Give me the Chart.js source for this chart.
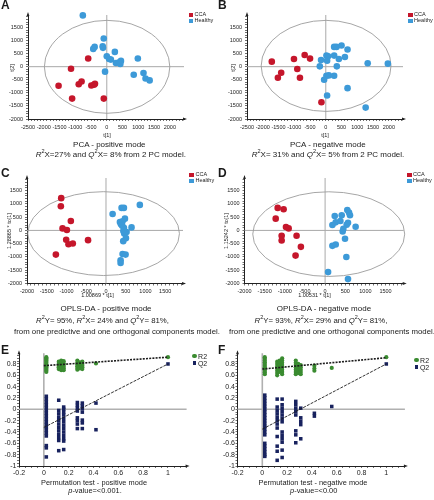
<!DOCTYPE html>
<html>
<head>
<meta charset="utf-8">
<script src="https://cdn.jsdelivr.net/npm/chart.js@4.4.1/dist/chart.umd.min.js"></script>
<style>
  body { margin: 0; background: #fff; font-family: "Liberation Sans", Arial, sans-serif; color: #1a1a1a; }
  #fig { position: relative; width: 434px; height: 500px; overflow: hidden; }
  canvas { position: absolute; }
  .lbl { position: absolute; white-space: nowrap; line-height: 1; transform: translate(-50%, -50%); }
  .rot { transform: translate(-50%, -50%) rotate(-90deg); }
  .side { transform: translateY(-50%); }
  .letter { position: absolute; font-weight: bold; font-size: 12px; line-height: 1; }
  sup { font-size: 70%; line-height: 0; position: relative; top: -0.1em; vertical-align: super; }
</style>
</head>
<body>
<div id="fig"></div>
<script>
const FONT = '"Liberation Sans", Arial, sans-serif';
const RED = '#c5162b', BLUE = '#3d9ad8', GREEN = '#3a8b30', NAVY = '#18225e';

// A - PCA positive mode, [t1, t2]
const pcaPosCCA = [[-590, 310], [-1135, -80], [-800, -565], [-890, -670], [-490, -720],
  [-405, -690], [-375, -650], [-1530, -730], [-1100, -1220], [-95, -1220]];
const pcaPosHealthy = [[-760, 1960], [-96, 1077], [-130, 780], [-120, 720], [-385, 756],
  [-430, 680], [0, 400], [75, 295], [130, 270], [256, 565], [290, 140], [395, 165],
  [450, 220], [430, 100], [985, 310], [-55, -190], [855, -310], [1165, -245],
  [1230, -450], [1360, -525]];

// B - PCA negative mode
const pcaNegCCA = [[-1713, 192], [-1010, 295], [-670, 449], [-500, 308], [-905, -90],
  [-1415, -230], [-1520, -423], [-820, -423], [-138, -1359]];
const pcaNegHealthy = [[21, 423], [74, 397], [42, 230], [-150, 255], [-190, 13],
  [265, 756], [340, 756], [500, 808], [265, 423], [415, 295], [690, 654], [606, 372],
  [350, 13], [20, -346], [95, -333], [-53, -500], [265, -346], [690, -820],
  [42, -1100], [1330, 128], [1970, 115], [1265, -1564]];

// C - OPLS-DA positive mode, [t1, to1]
const oplsPosCCA = [[-1134, 1215], [-1143, 911], [-890, 354], [-1100, 76], [-990, 13],
  [-1008, -354], [-950, -519], [-840, -494], [-454, -367], [-1269, -911]];
const oplsPosHealthy = [[857, 962], [395, 848], [454, 848], [168, 620], [480, 443],
  [353, 316], [420, 342], [378, 228], [410, 180], [647, 114], [454, 101], [440, -20],
  [521, -63], [462, -114], [504, -291], [437, -405], [420, -886], [496, -911],
  [370, -1126], [370, -1228]];

// D - OPLS-DA negative mode
const oplsNegCCA = [[-1177, 848], [-1029, 797], [-1226, 443], [-971, 127], [-905, 76],
  [-1078, -203], [-1078, -380], [-708, -203], [-601, -620], [-733, -949]];
const oplsNegHealthy = [[239, 544], [412, 570], [551, 772], [593, 671], [617, 570],
  [263, 304], [379, 354], [181, 203], [568, 291], [535, 215], [757, 139], [453, 63],
  [436, -38], [494, -316], [181, -582], [263, -532], [527, -1000], [74, -1570],
  [568, -1835]];

// Hotelling ellipses: [centre t1, centre t2, radius t1, radius t2]
const ellipseA = [10, -6, 1990, 1776];
const ellipseB = [10, 30, 2060, 1740];
const ellipseC = [-60, -120, 1920, 1580];
const ellipseD = [90, -139, 1885, 1595];

// E - permutation test positive mode, [correlation, value]
const permPosR2 = [
  [0.02, 0.92], [0.02, 0.9], [0.02, 0.88], [0.02, 0.86], [0.02, 0.84], [0.02, 0.82], [0.02, 0.8],
  [0.02, 0.78], [0.02, 0.76], [0.02, 0.74], [0.02, 0.72], [0.02, 0.7], [0.02, 0.68], [0.02, 0.66],
  [0.12, 0.84], [0.12, 0.8], [0.12, 0.77], [0.12, 0.74], [0.12, 0.71],
  [0.14, 0.86], [0.14, 0.82], [0.14, 0.78], [0.14, 0.75], [0.14, 0.72], [0.14, 0.69],
  [0.16, 0.85], [0.16, 0.81], [0.16, 0.78], [0.16, 0.75], [0.16, 0.72], [0.16, 0.69],
  [0.27, 0.86], [0.27, 0.82], [0.27, 0.79], [0.27, 0.76], [0.27, 0.73], [0.27, 0.7],
  [0.29, 0.83], [0.29, 0.79], [0.29, 0.75], [0.29, 0.72],
  [0.31, 0.84], [0.31, 0.8], [0.31, 0.77], [0.31, 0.74], [0.31, 0.71],
  [0.42, 0.81], [1, 0.92]];
const permPosQ2 = [
  [0.02, 0.23], [0.02, 0.18], [0.02, 0.13], [0.02, 0.08], [0.02, 0.03], [0.02, -0.02],
  [0.02, -0.07], [0.02, -0.12], [0.02, -0.17], [0.02, -0.22], [0.02, -0.27], [0.02, -0.32],
  [0.02, -0.37], [0.02, -0.42], [0.02, -0.47], [0.02, -0.64], [0.02, -0.68], [0.02, -0.84],
  [0.12, 0.16], [0.12, -0.02], [0.12, -0.08], [0.12, -0.14], [0.12, -0.2], [0.12, -0.26],
  [0.12, -0.32], [0.12, -0.38], [0.12, -0.44], [0.12, -0.5], [0.12, -0.55], [0.12, -0.73],
  [0.16, 0.04], [0.16, 0], [0.16, -0.05], [0.16, -0.1], [0.16, -0.16], [0.16, -0.22],
  [0.16, -0.28], [0.16, -0.34], [0.16, -0.4], [0.16, -0.46], [0.16, -0.52], [0.16, -0.56],
  [0.16, -0.71],
  [0.27, 0.12], [0.27, 0.07], [0.27, 0.02], [0.27, -0.03], [0.27, -0.15], [0.27, -0.2],
  [0.27, -0.26], [0.27, -0.34],
  [0.31, 0.11], [0.31, 0.06], [0.31, 0.01], [0.31, -0.05], [0.31, -0.19], [0.31, -0.24],
  [0.31, -0.34],
  [0.42, 0.11], [0.42, -0.36], [1, 0.8]];
const permPosR2Fit = [[0, 0.77], [1, 0.92]];
const permPosQ2Fit = [[0, -0.32], [1, 0.8]];

// F - permutation test negative mode
const permNegR2 = [
  [0.02, 0.92], [0.02, 0.89], [0.02, 0.86], [0.02, 0.83], [0.02, 0.8], [0.02, 0.77],
  [0.02, 0.74], [0.02, 0.71], [0.02, 0.68], [0.02, 0.65], [0.02, 0.62],
  [0.12, 0.84], [0.12, 0.8], [0.12, 0.76], [0.12, 0.72], [0.12, 0.68], [0.12, 0.64], [0.12, 0.6],
  [0.14, 0.86], [0.14, 0.82], [0.14, 0.78], [0.14, 0.74], [0.14, 0.7], [0.14, 0.66],
  [0.16, 0.9], [0.16, 0.86], [0.16, 0.82], [0.16, 0.78], [0.16, 0.74], [0.16, 0.7],
  [0.16, 0.66], [0.16, 0.62],
  [0.27, 0.86], [0.27, 0.82], [0.27, 0.78], [0.27, 0.74], [0.27, 0.7], [0.27, 0.66], [0.27, 0.62],
  [0.29, 0.8], [0.29, 0.76], [0.29, 0.72], [0.29, 0.68], [0.29, 0.64],
  [0.31, 0.78], [0.31, 0.74], [0.31, 0.7], [0.31, 0.66], [0.31, 0.62],
  [0.42, 0.77], [0.42, 0.72], [0.42, 0.68], [0.56, 0.73], [1, 0.92]];
const permNegQ2 = [
  [0.02, 0.25], [0.02, 0.2], [0.02, 0.15], [0.02, 0.1], [0.02, 0.05], [0.02, 0],
  [0.02, -0.05], [0.02, -0.1], [0.02, -0.15], [0.02, -0.2], [0.02, -0.25], [0.02, -0.3],
  [0.02, -0.35], [0.02, -0.4], [0.02, -0.45], [0.02, -0.6], [0.02, -0.65], [0.02, -0.7],
  [0.02, -0.75], [0.02, -0.8], [0.02, -0.83],
  [0.12, 0.18], [0.12, 0.04], [0.12, -0.02], [0.12, -0.08], [0.12, -0.14], [0.12, -0.2],
  [0.12, -0.26], [0.12, -0.33], [0.12, -0.48], [0.12, -0.65], [0.12, -0.74], [0.12, -0.9],
  [0.16, 0.18], [0.16, 0.08], [0.16, 0.02], [0.16, -0.04], [0.16, -0.1], [0.16, -0.16],
  [0.16, -0.22], [0.16, -0.4], [0.16, -0.46], [0.16, -0.52], [0.16, -0.58], [0.16, -0.72],
  [0.16, -0.85],
  [0.27, 0.14], [0.27, 0.08], [0.27, 0.02], [0.27, -0.04], [0.27, -0.1], [0.27, -0.38],
  [0.27, -0.45], [0.27, -0.59],
  [0.31, 0.02], [0.31, -0.15], [0.31, -0.21], [0.31, -0.27], [0.31, -0.52],
  [0.42, -0.07], [0.42, -0.12], [0.56, 0.05], [1, 0.8]];
const permNegR2Fit = [[0, 0.71], [1, 0.91]];
const permNegQ2Fit = [[0, -0.35], [1, 0.8]];

const fig = document.getElementById('fig');
const pts = pairs => pairs.map(([x, y]) => ({ x, y }));
const isMajor = (v, major) => Math.abs(v / major - Math.round(v / major)) < 1e-6;

// zero lines, confidence ellipse and little axis arrows
const guides = {
  id: 'guides',
  defaults: { zeroColor: '#a9a9a9', zeroWidth: 1, ellipse: null },
  beforeDatasetsDraw(chart, args, o) {
    const { ctx, chartArea: a, scales: { x, y } } = chart;
    const x0 = x.getPixelForValue(0), y0 = y.getPixelForValue(0);
    ctx.save();
    ctx.strokeStyle = o.zeroColor;
    ctx.lineWidth = o.zeroWidth;
    ctx.beginPath();
    ctx.moveTo(a.left, y0); ctx.lineTo(a.right, y0);
    ctx.moveTo(x0, a.top); ctx.lineTo(x0, a.bottom);
    ctx.stroke();
    if (o.ellipse) {
      const [cx, cy, rx, ry] = o.ellipse;
      const px = x.getPixelForValue(cx), py = y.getPixelForValue(cy);
      ctx.strokeStyle = '#9c9c9c';
      ctx.lineWidth = 0.9;
      ctx.beginPath();
      ctx.ellipse(px, py, Math.abs(x.getPixelForValue(cx + rx) - px),
        Math.abs(y.getPixelForValue(cy + ry) - py), 0, 0, Math.PI * 2);
      ctx.stroke();
    }
    ctx.restore();
  },
  afterDraw(chart) {
    const { ctx, chartArea: a } = chart;
    ctx.save();
    ctx.fillStyle = '#222';
    ctx.beginPath();
    ctx.moveTo(a.right + 3, a.bottom); ctx.lineTo(a.right - 1, a.bottom - 1.4); ctx.lineTo(a.right - 1, a.bottom + 1.4);
    ctx.closePath();
    ctx.moveTo(a.left, a.top - 3); ctx.lineTo(a.left - 1.4, a.top + 1); ctx.lineTo(a.left + 1.4, a.top + 1);
    ctx.closePath();
    ctx.fill();
    ctx.restore();
  }
};

function axisOpts(min, max, step, major, size, pad, fixed, isX, fmt) {
  return {
    type: 'linear', min, max,
    border: { color: '#222', width: 1 },
    grid: { drawOnChartArea: false, drawTicks: true, tickLength: 2, tickWidth: 0.7, color: '#333' },
    ticks: {
      stepSize: step, includeBounds: false, autoSkip: false, maxRotation: 0, minRotation: 0,
      padding: pad, color: '#222', font: { size, family: FONT },
      callback: v => isMajor(v, major) ? fmt(v) : ''
    },
    afterFit: s => { if (isX) s.height = fixed; else s.width = fixed; }
  };
}

function makeCanvas(left, top, w, h) {
  const c = document.createElement('canvas');
  c.width = w; c.height = h;
  c.style.left = left + 'px'; c.style.top = top + 'px';
  c.style.width = w + 'px'; c.style.height = h + 'px';
  fig.appendChild(c);
  return c;
}

// box = [left, top, width, height, yAxisWidth, xAxisHeight, padTop, padRight]
function scoreChart(box, cca, healthy, xr, ellipse) {
  const [left, top, w, h, yW, xH, padTop, padRight] = box;
  new Chart(makeCanvas(left, top, w, h), {
    type: 'scatter',
    data: {
      datasets: [
        { label: 'CCA', data: pts(cca), backgroundColor: RED, clip: false },
        { label: 'Healthy', data: pts(healthy), backgroundColor: BLUE, clip: false }
      ]
    },
    options: {
      responsive: false, animation: false, events: [],
      layout: { padding: { top: padTop, right: padRight, left: 0, bottom: 0 } },
      elements: { point: { radius: 3.3, hoverRadius: 3.3, borderWidth: 0 } },
      plugins: { legend: { display: false }, tooltip: { enabled: false }, guides: { ellipse } },
      scales: {
        x: axisOpts(xr[0], xr[1], 100, 500, 5.5, 3, xH, true, String),
        y: axisOpts(-2000, 1975, 100, 500, 5.5, 3, yW, false, String)
      }
    },
    plugins: [guides]
  });
}

function permChart(box, r2, q2, r2Fit, q2Fit) {
  const [left, top, w, h, yW, xH, padTop, padRight] = box;
  const fmt = v => String(Math.round(v * 10) / 10);
  new Chart(makeCanvas(left, top, w, h), {
    type: 'scatter',
    data: {
      datasets: [
        { label: 'R2 fit', data: pts(r2Fit), showLine: true, borderColor: '#1c1c1c', borderWidth: 1.6,
          borderDash: [2, 1.2], pointRadius: 0, order: 0 },
        { label: 'Q2 fit', data: pts(q2Fit), showLine: true, borderColor: '#1c1c1c', borderWidth: 0.9,
          borderDash: [3, 1.2], pointRadius: 0, order: 0 },
        { label: 'R2', data: pts(r2), backgroundColor: GREEN, pointRadius: 2.1, borderWidth: 0, order: 1, clip: false },
        { label: 'Q2', data: pts(q2), backgroundColor: NAVY, pointStyle: 'rect', pointRadius: 2.5,
          borderWidth: 0, order: 1, clip: false }
      ]
    },
    options: {
      responsive: false, animation: false, events: [],
      layout: { padding: { top: padTop, right: padRight, left: 0, bottom: 0 } },
      plugins: { legend: { display: false }, tooltip: { enabled: false },
        guides: { zeroColor: '#b0b0b0', zeroWidth: 1.6 } },
      scales: {
        x: axisOpts(-0.2, 1.15, 0.05, 0.2, 7, 1, xH, true, fmt),
        y: axisOpts(-1, 0.99, 0.05, 0.2, 7, 0.5, yW, false, fmt)
      }
    },
    plugins: [guides]
  });
}

scoreChart([0, 8, 190, 125, 28, 14, 7, 6], pcaPosCCA, pcaPosHealthy, [-2500, 2450], ellipseA);
scoreChart([217, 8, 190, 125, 30, 14, 7, 4], pcaNegCCA, pcaNegHealthy, [-2500, 2450], ellipseB);
scoreChart([0, 170, 190, 128, 27, 14.5, 8, 7], oplsPosCCA, oplsPosHealthy, [-2000, 1950], ellipseC);
scoreChart([217, 170, 190, 128, 27.5, 14.5, 8, 2.5], oplsNegCCA, oplsNegHealthy, [-2000, 1950], ellipseD);
permChart([0, 345, 192, 135, 19, 14, 8.2, 5.4], permPosR2, permPosQ2, permPosR2Fit, permPosQ2Fit);
permChart([217, 345, 192, 135, 20.5, 14, 8.2, 4.1], permNegR2, permNegQ2, permNegR2Fit, permNegQ2Fit);

// ---- text ----
function label(html, x, y, size, cls) {
  const d = document.createElement('div');
  d.className = 'lbl' + (cls ? ' ' + cls : '');
  d.style.left = x + 'px'; d.style.top = y + 'px'; d.style.fontSize = size + 'px';
  d.innerHTML = html;
  fig.appendChild(d);
}
function letter(ch, x, y) {
  const d = document.createElement('div');
  d.className = 'letter';
  d.style.left = x + 'px'; d.style.top = y + 'px';
  d.textContent = ch;
  fig.appendChild(d);
}
function legendRow(cx, cy, color, text, round, sw, size) {
  const s = document.createElement('div');
  s.style.cssText = `position:absolute;left:${cx - sw / 2}px;top:${cy - sw / 2}px;width:${sw}px;height:${sw}px;` +
    `background:${color};border-radius:${round ? '50%' : '0'}`;
  fig.appendChild(s);
  label(text, cx + sw / 2 + 1.5, cy, size, 'side');
}

letter('A', 1, -1); letter('B', 218, -1);
letter('C', 1, 166.5); letter('D', 218, 166.5);
letter('E', 1, 343.5); letter('F', 218, 343.5);

legendRow(190.8, 14.8, RED, 'CCA', false, 4.6, 5.5);
legendRow(190.8, 20.8, BLUE, 'Healthy', false, 4.6, 5.5);
legendRow(410.3, 14.8, RED, 'CCA', false, 4.6, 5.5);
legendRow(410.3, 20.8, BLUE, 'Healthy', false, 4.6, 5.5);
legendRow(191.7, 175, RED, 'CCA', false, 4.6, 5.5);
legendRow(191.7, 181, BLUE, 'Healthy', false, 4.6, 5.5);
legendRow(409.3, 175, RED, 'CCA', false, 4.6, 5.5);
legendRow(409.3, 181, BLUE, 'Healthy', false, 4.6, 5.5);
legendRow(194.5, 356, GREEN, 'R2', true, 4.2, 7);
legendRow(194.5, 363, NAVY, 'Q2', false, 3.8, 7);
legendRow(416.5, 360, GREEN, 'R2', true, 4.2, 7);
legendRow(416.5, 367, NAVY, 'Q2', false, 3.8, 7);

label('t[2]', 13, 68, 5.5, 'rot');
label('t[2]', 233.5, 68, 5.5, 'rot');
label('t[1]', 107, 136, 5.5);
label('t[1]', 325, 136, 5.5);
label('PCA - positive mode', 109.3, 145, 8);
label('<i>R</i><sup>2</sup>X=27% and <i>Q</i><sup>2</sup>X= 8% from 2 PC model.', 110.8, 155, 8);
label('PCA - negative mode', 327.8, 145, 8);
label('<i>R</i><sup>2</sup>X= 31% and <i>Q</i><sup>2</sup>X= 5% from 2 PC model.', 328, 155, 8);

label('1.28865 * to[1]', 10, 231, 5.5, 'rot');
label('1.15242 * to[1]', 227, 231, 5.5, 'rot');
label('1.00869 * t[1]', 97.5, 296, 5.5);
label('1.00531 * t[1]', 314.5, 296, 5.5);
label('OPLS-DA - positive mode', 106, 309.3, 8);
label('<i>R</i><sup>2</sup>Y= 95%, <i>R</i><sup>2</sup>X= 24% and <i>Q</i><sup>2</sup>Y= 81%,', 102.5, 320.7, 7.8);
label('from one predictive and one orthogonal components model.', 117, 331.7, 7.8);
label('OPLS-DA - negative mode', 324, 309.3, 8);
label('<i>R</i><sup>2</sup>Y= 93%, <i>R</i><sup>2</sup>X= 29% and <i>Q</i><sup>2</sup>Y= 81%,', 321, 320.7, 7.8);
label('from one predictive and one orthogonal components model.', 332, 331.7, 7.8);

label('Permutation test - positive mode', 94, 482.7, 7.4);
label('<i>p</i>-value=&lt;0.001.', 95, 490.7, 7.4);
label('Permutation test - negative mode', 313, 482.7, 7.4);
label('<i>p</i>-value=&lt;0.00', 313.7, 490.7, 7.4);
</script>
</body>
</html>
